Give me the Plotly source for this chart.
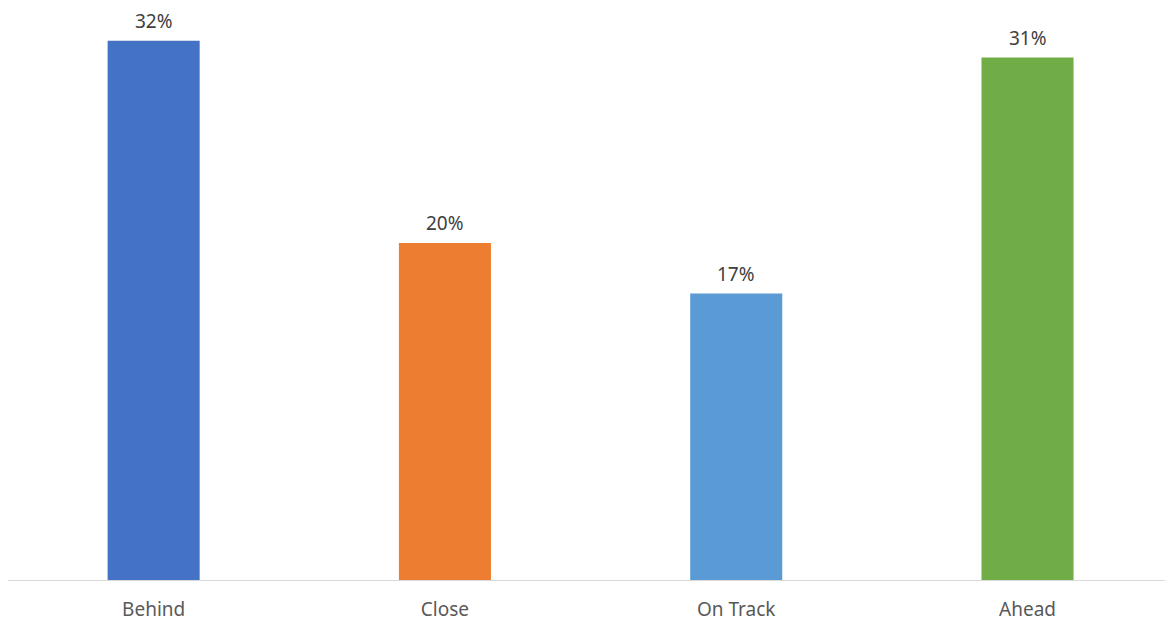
import plotly.graph_objects as go

categories = ["Behind", "Close", "On Track", "Ahead"]
values = [32, 20, 17, 31]
labels = ["32%", "20%", "17%", "31%"]
colors = ["#4472C4", "#ED7D31", "#5B9BD5", "#70AD47"]

fig = go.Figure()
fig.add_trace(go.Bar(
    x=categories, y=values, marker=dict(color=colors, line=dict(width=0)),
    hoverinfo="skip", showlegend=False,
))
for c, v, t in zip(categories, values, labels):
    fig.add_annotation(x=c, y=v, text=t, showarrow=False, yanchor="bottom", yshift=5,
                       font=dict(family="Noto Sans", size=19, color="#404040"))

fig.update_layout(
    width=1165, height=621,
    margin=dict(l=8, r=0, t=7, b=41),
    paper_bgcolor="white", plot_bgcolor="white",
    bargap=0.684,
    font=dict(family="Noto Sans", size=19, color="#595959"),
    xaxis=dict(range=[-0.5, 3.472], showline=True, linecolor="#D9D9D9", linewidth=1,
               showgrid=False, ticks="", ticklabelstandoff=12,
               tickfont=dict(size=19, color="#595959")),
    yaxis=dict(range=[0, 34], visible=False, showgrid=False, zeroline=False),
)
fig.write_html("out.html", config={"displayModeBar": False},
               post_script="document.body.style.margin='0';")
